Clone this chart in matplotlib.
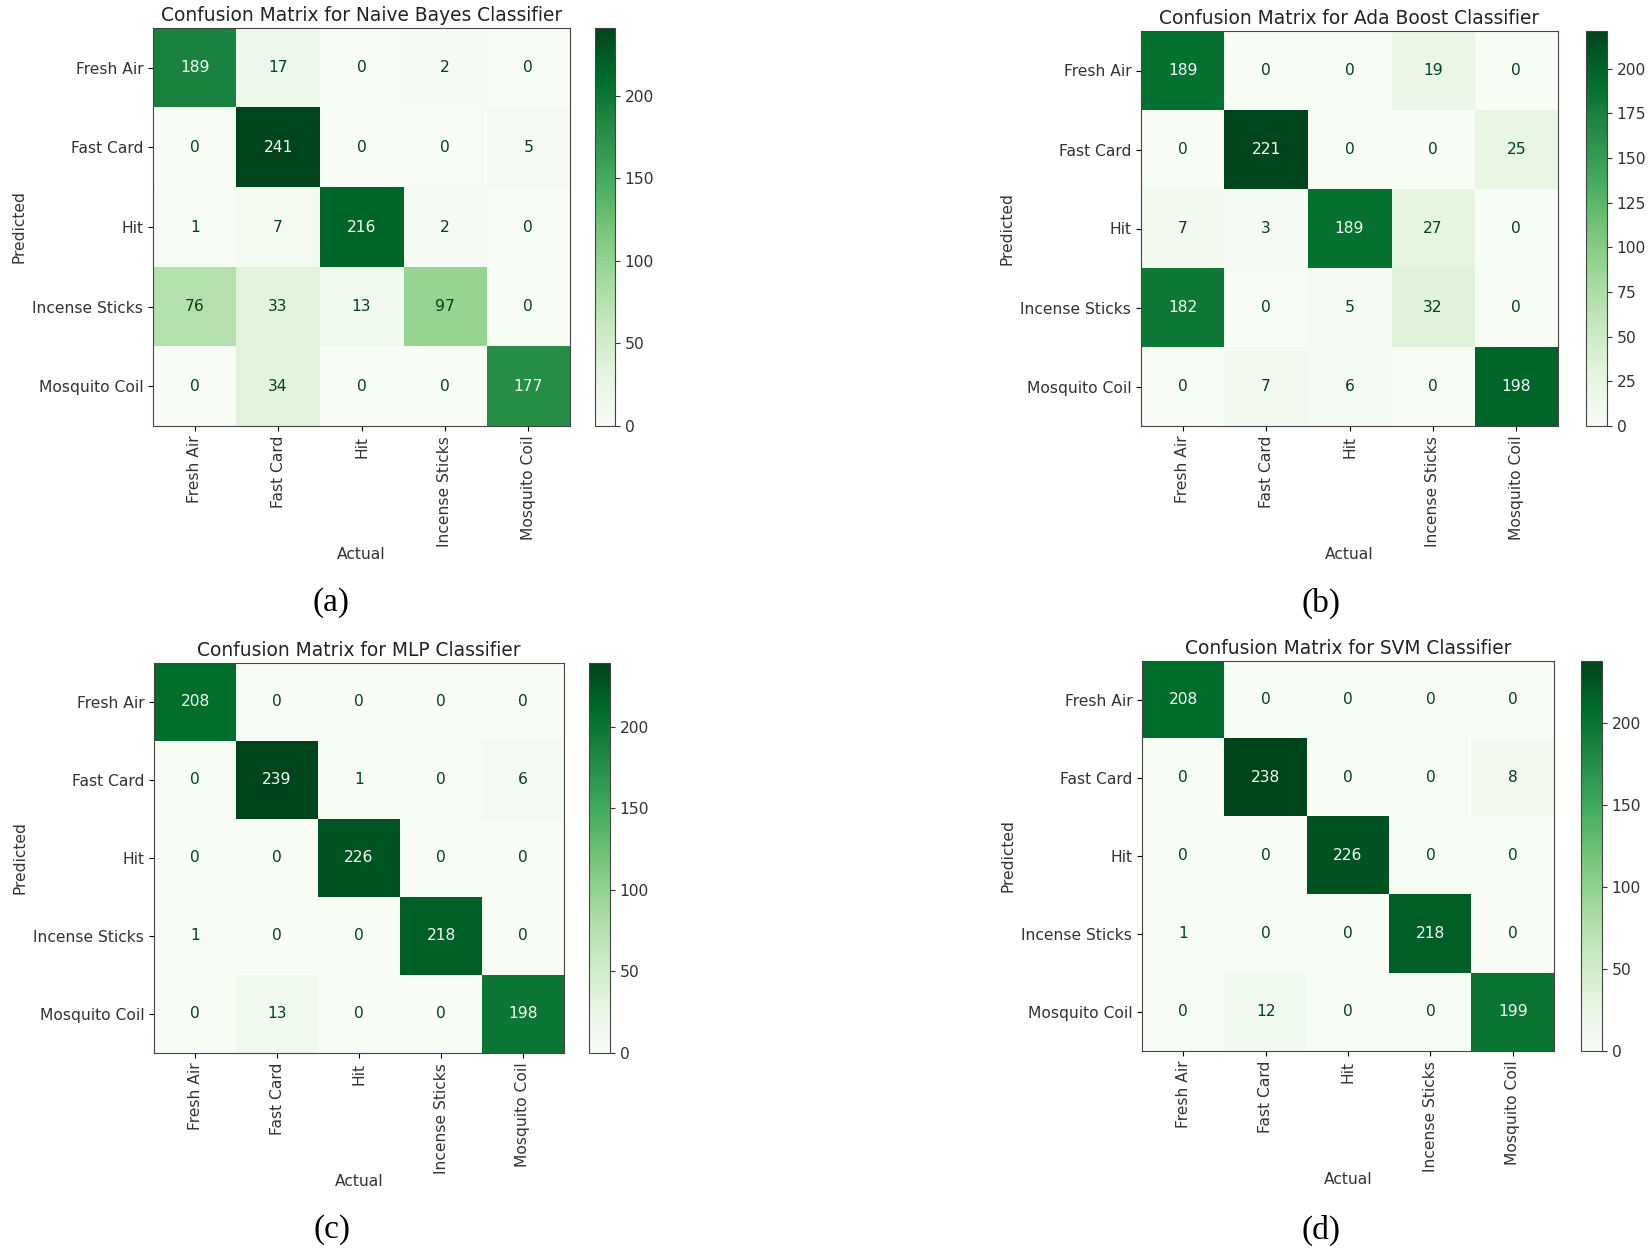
import numpy as np
import matplotlib
matplotlib.use("Agg")
import matplotlib.pyplot as plt

plt.rcParams["font.family"] = ["DejaVu Sans"]

labels = ["Fresh Air", "Fast Card", "Hit", "Incense Sticks", "Mosquito Coil"]

nb = [[189, 17, 0, 2, 0],
      [0, 241, 0, 0, 5],
      [1, 7, 216, 2, 0],
      [76, 33, 13, 97, 0],
      [0, 34, 0, 0, 177]]

ada = [[189, 0, 0, 19, 0],
       [0, 221, 0, 0, 25],
       [7, 3, 189, 27, 0],
       [182, 0, 5, 32, 0],
       [0, 7, 6, 0, 198]]

mlp = [[208, 0, 0, 0, 0],
       [0, 239, 1, 0, 6],
       [0, 0, 226, 0, 0],
       [1, 0, 0, 218, 0],
       [0, 13, 0, 0, 198]]

svm = [[208, 0, 0, 0, 0],
       [0, 238, 0, 0, 8],
       [0, 0, 226, 0, 0],
       [1, 0, 0, 218, 0],
       [0, 12, 0, 0, 199]]

titles = ["Confusion Matrix for Naive Bayes Classifier",
          "Confusion Matrix for Ada Boost Classifier",
          "Confusion Matrix for MLP Classifier",
          "Confusion Matrix for SVM Classifier"]
captions = ["(a)", "(b)", "(c)", "(d)"]
cbar_ticks = [[0, 50, 100, 150, 200],
              [0, 25, 50, 75, 100, 125, 150, 175, 200],
              [0, 50, 100, 150, 200],
              [0, 50, 100, 150, 200]]

W, H = 1652, 1251
fig = plt.figure(figsize=(W / 100, H / 100), dpi=100)
fig.patch.set_facecolor("white")

def rect(x0, y0, x1, y1):
    return [x0 / W, 1 - y1 / H, (x1 - x0) / W, (y1 - y0) / H]

# (ax box, cbar box, caption position)
layout = [
    ((153, 28, 570, 426), (595, 28, 615, 426), (331, 603)),
    ((1141, 31, 1558, 426), (1586, 31, 1607, 426), (1321, 603)),
    ((154, 663, 564, 1053), (589, 663, 610, 1053), (332, 1230)),
    ((1142, 661, 1554, 1051), (1581, 661, 1602, 1051), (1321, 1230)),
]

cmap = plt.get_cmap("Greens")
mats = [nb, ada, mlp, svm]
fs = 11.2
for i, m in enumerate(mats):
    m = np.array(m)
    axb, cbb, cap = layout[i]
    ax = fig.add_axes(rect(*axb))
    cax = fig.add_axes(rect(*cbb))
    im = ax.imshow(m, cmap=cmap, vmin=0, vmax=m.max(), aspect="auto",
                   interpolation="nearest")
    thresh = (m.max() + m.min()) / 2.0
    for r in range(m.shape[0]):
        for c in range(m.shape[1]):
            col = cmap(0.0) if m[r, c] >= thresh else cmap(1.0)
            ax.text(c, r, str(m[r, c]), ha="center", va="center",
                    color=col, fontsize=fs)
    ax.set_xticks(range(len(labels)))
    ax.set_yticks(range(len(labels)))
    ax.set_xticklabels(labels, rotation=90, fontsize=fs, color="#333333")
    ax.set_yticklabels(labels, fontsize=fs, color="#333333")
    ax.set_xlabel("Actual", fontsize=fs, color="#333333", labelpad=0)
    ax.set_ylabel("Predicted", fontsize=fs, color="#333333")
    ax.set_title(titles[i], fontsize=13.4, color="#222222", pad=5)
    for sp in ax.spines.values():
        sp.set_color("#444444")
    cb = fig.colorbar(im, cax=cax)
    cb.set_ticks(cbar_ticks[i])
    cb.ax.tick_params(labelsize=fs, colors="#333333")
    cb.outline.set_edgecolor("#444444")
    fig.text(cap[0] / W, 1 - cap[1] / H, captions[i], ha="center", va="center",
             fontsize=24, family="Liberation Serif", color="black")

fig.savefig("out.png", dpi=100, facecolor="white")
